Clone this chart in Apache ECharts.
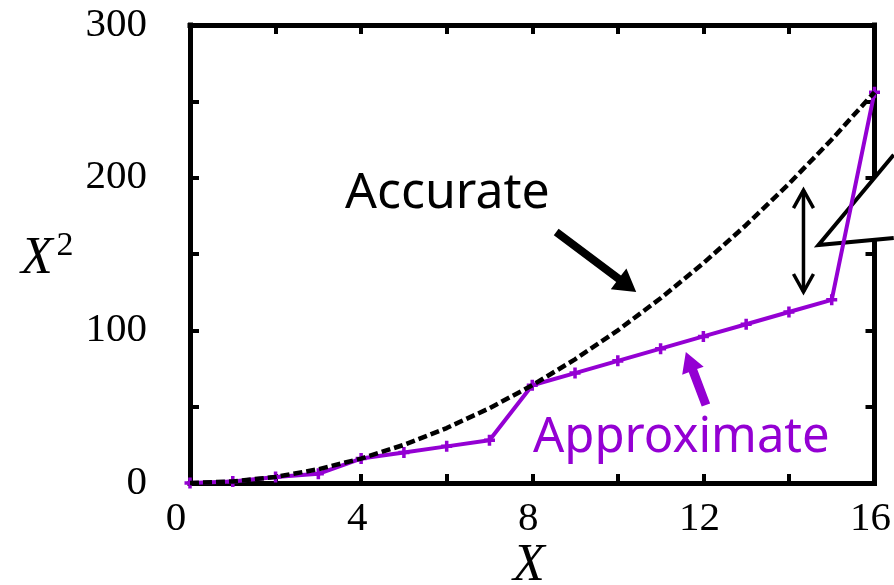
<!DOCTYPE html>
<html>
<head>
<meta charset="utf-8">
<script src="https://cdn.jsdelivr.net/npm/echarts@6/dist/echarts.min.js"></script>
<style>
  html, body { margin: 0; padding: 0; background: #fff; }
  #chart { width: 894px; height: 585px; }
</style>
</head>
<body>
<div id="chart"></div>
<script>
// X values sampled at every integer from 0 to 16
const xValues = [0, 1, 2, 3, 4, 5, 6, 7, 8, 9, 10, 11, 12, 13, 14, 15, 16];
// Exact squares
const accurateValues = [0, 1, 4, 9, 16, 25, 36, 49, 64, 81, 100, 121, 144, 169, 196, 225, 256];
// Shift-based approximation of the square
const approxValues = [0, 1, 4, 6, 16, 20, 24, 28, 64, 72, 80, 88, 96, 104, 112, 120, 256];
// Labelled ticks
const xTickLabels = ['0', '4', '8', '12', '16'];
const yTickLabels = ['0', '100', '200', '300'];

const PURPLE = '#9400D3';
const SERIF = '"Liberation Serif", "DejaVu Serif", serif';
const SANS = '"Noto Sans", "DejaVu Sans", sans-serif';

const chart = echarts.init(document.getElementById('chart'), null, { renderer: 'canvas' });

const frameLine = { show: true, onZero: false, lineStyle: { color: '#000', width: 5, cap: 'square' } };
const frameTick = { show: true, inside: true, length: 9, lineStyle: { color: '#000', width: 4 } };

function xLabel(v) {
  const s = String(v);
  if (!xTickLabels.includes(s)) return '';
  return v === 0 ? '{z|' + s + '}' : '{n|' + s + '}';
}
function yLabel(v) {
  const s = String(v);
  return yTickLabels.includes(s) ? s : '';
}

const labelFont = { fontFamily: SERIF, fontSize: 41, color: '#000' };

chart.setOption({
  animation: false,
  backgroundColor: '#fff',
  grid: { left: 190, right: 19, top: 25, bottom: 102, containLabel: false },
  xAxis: [
    {
      type: 'value', min: 0, max: 16, interval: 2, position: 'bottom',
      axisLine: frameLine, axisTick: frameTick, splitLine: { show: false },
      axisLabel: {
        margin: 16, formatter: xLabel,
        rich: {
          n: Object.assign({ padding: [0, 8, 0, 0] }, labelFont),
          z: Object.assign({ padding: [0, 28, 0, 0] }, labelFont)
        }
      }
    },
    {
      type: 'value', min: 0, max: 16, interval: 2, position: 'top',
      axisLine: frameLine, axisTick: frameTick, splitLine: { show: false },
      axisLabel: { show: false }
    }
  ],
  yAxis: [
    {
      type: 'value', min: 0, max: 300, interval: 50, position: 'left',
      axisLine: frameLine, axisTick: frameTick, splitLine: { show: false },
      axisLabel: Object.assign({ margin: 43, formatter: yLabel }, labelFont)
    },
    {
      type: 'value', min: 0, max: 300, interval: 50, position: 'right',
      axisLine: frameLine, axisTick: frameTick, splitLine: { show: false },
      axisLabel: { show: false }
    }
  ],
  series: [
    {
      name: 'Approximate', type: 'line', z: 10,
      xAxisIndex: 0, yAxisIndex: 0,
      data: xValues.map((x, i) => [x, approxValues[i]]),
      lineStyle: { color: PURPLE, width: 4 },
      itemStyle: { color: PURPLE },
      symbol: 'path://M-1.6,-5H1.6V5H-1.6Z M-5,-1.6H5V1.6H-5Z',
      symbolSize: [11, 11],
      showSymbol: true,
      clip: false
    },
    {
      name: 'Accurate', type: 'line', z: 11,
      xAxisIndex: 0, yAxisIndex: 0,
      data: xValues.map((x, i) => [x, accurateValues[i]]),
      lineStyle: { color: '#000', width: 4.5, type: [9, 4] },
      symbol: 'none',
      clip: false
    }
  ]
});

// Annotation geometry, placed in data coordinates
const px = (x, y) => chart.convertToPixel({ gridIndex: 0 }, [x, y]);

function arrowHead(tail, tip, shaftW, headW, headL) {
  const dx = tip[0] - tail[0], dy = tip[1] - tail[1];
  const len = Math.hypot(dx, dy);
  const ux = dx / len, uy = dy / len, nx = -uy, ny = ux;
  const bx = tip[0] - ux * headL, by = tip[1] - uy * headL;
  return [
    [tail[0] + nx * shaftW / 2, tail[1] + ny * shaftW / 2],
    [bx + nx * shaftW / 2, by + ny * shaftW / 2],
    [bx + nx * headW / 2, by + ny * headW / 2],
    tip,
    [bx - nx * headW / 2, by - ny * headW / 2],
    [bx - nx * shaftW / 2, by - ny * shaftW / 2],
    [tail[0] - nx * shaftW / 2, tail[1] - ny * shaftW / 2]
  ];
}

const accTail = px(8.56, 164.4), accTip = px(10.43, 125.1);
const appTail = px(12.06, 51.1), appTip = px(11.59, 85.8);
const gapTop = px(14.34, 191.9), gapBottom = px(14.34, 125.1);
const calloutTip = px(14.69, 155.9), calloutUp = px(16.45, 215), calloutLow = px(16.45, 160.5);

const graphic = [
  // callout pointer that continues past the right edge
  {
    type: 'polygon', z: 5,
    shape: { points: [calloutUp, calloutTip, calloutLow, [calloutLow[0] + 40, calloutLow[1]], [calloutUp[0] + 40, calloutUp[1]]] },
    style: { fill: '#fff', stroke: 'none' }
  },
  {
    type: 'polyline', z: 6,
    shape: { points: [calloutUp, calloutTip, calloutLow] },
    style: { stroke: '#000', lineWidth: 4, fill: 'none', lineJoin: 'miter' }
  },
  // arrow pointing at the exact curve
  {
    type: 'polygon', z: 20,
    shape: { points: arrowHead(accTail, accTip, 8, 26, 22) },
    style: { fill: '#000' }
  },
  // arrow pointing at the approximate curve
  {
    type: 'polygon', z: 20,
    shape: { points: arrowHead(appTail, appTip, 9, 23, 20) },
    style: { fill: PURPLE }
  },
  // double-headed gap marker
  {
    type: 'polyline', z: 20,
    shape: { points: [gapTop, gapBottom] },
    style: { stroke: '#000', lineWidth: 3.5, fill: 'none' }
  },
  {
    type: 'polyline', z: 20,
    shape: { points: [[gapTop[0] - 10, gapTop[1] + 18], gapTop, [gapTop[0] + 10, gapTop[1] + 18]] },
    style: { stroke: '#000', lineWidth: 3.5, fill: 'none' }
  },
  {
    type: 'polyline', z: 20,
    shape: { points: [[gapBottom[0] - 10, gapBottom[1] - 18], gapBottom, [gapBottom[0] + 10, gapBottom[1] - 18]] },
    style: { stroke: '#000', lineWidth: 3.5, fill: 'none' }
  },
  // series captions
  {
    type: 'text', z: 20, x: 345, y: 194,
    style: { text: 'Accurate', font: '50px ' + SANS, fill: '#000', textAlign: 'left', textVerticalAlign: 'middle' }
  },
  {
    type: 'text', z: 20, x: 533, y: 438,
    style: { text: 'Approximate', font: '49px ' + SANS, fill: PURPLE, textAlign: 'left', textVerticalAlign: 'middle' }
  },
  // axis titles
  {
    type: 'text', z: 20, x: 529, y: 566,
    style: { text: 'X', font: 'italic 52px ' + SERIF, fill: '#000', textAlign: 'center', textVerticalAlign: 'middle' }
  },
  {
    type: 'text', z: 20, x: 37, y: 259,
    style: { text: 'X', font: 'italic 52px ' + SERIF, fill: '#000', textAlign: 'center', textVerticalAlign: 'middle' }
  },
  {
    type: 'text', z: 20, x: 65, y: 246,
    style: { text: '2', font: '34px ' + SERIF, fill: '#000', textAlign: 'center', textVerticalAlign: 'middle' }
  }
];

chart.setOption({ graphic: graphic });
</script>
</body>
</html>
